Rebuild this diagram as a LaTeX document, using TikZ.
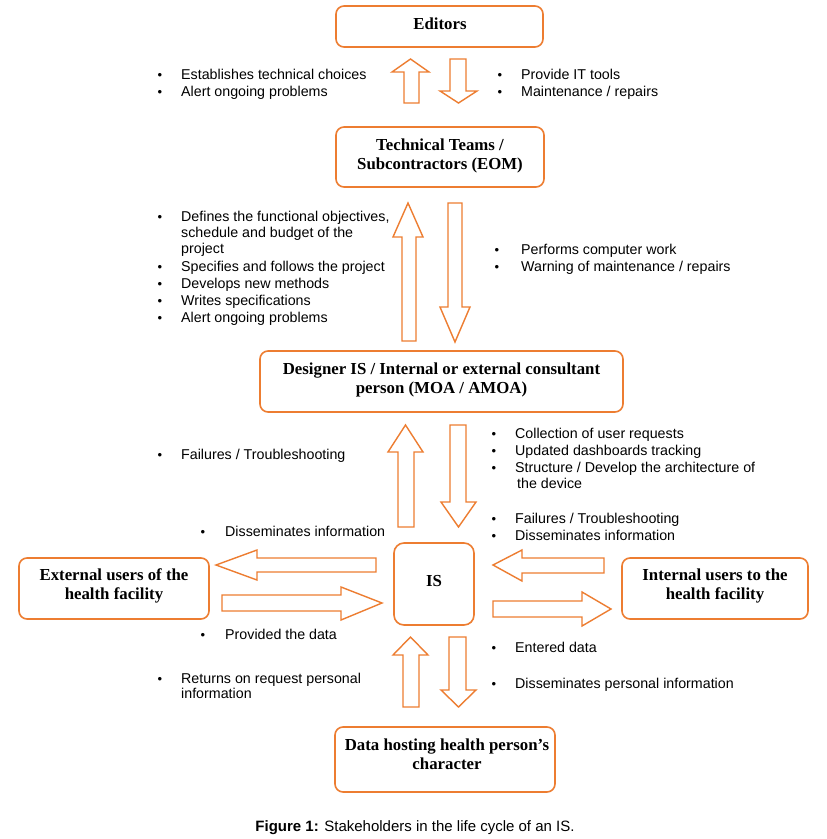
\documentclass[tikz,border=0pt]{standalone}
\usepackage{fontspec}
\setmainfont{Liberation Serif}
\newfontfamily\arialf{Liberation Sans}
\definecolor{orng}{HTML}{ED7D31}
\newcommand\bitem[5]{%
  \node[blt] (#1b) at (#2,#4+5) {\textbullet};
  \node[itm] (#1) at (#3,#4+5) {#5};}
\newcommand\citem[4]{%
  \node[itm] (#1) at (#2,#3+5) {#4};}
\begin{document}
\begin{tikzpicture}[x=1pt,y=-1pt,
  box/.style={draw=orng, line width=1.6pt, rounded corners=8pt, fill=white, inner sep=0pt},
  title/.style={font=\fontsize{16.8}{19}\selectfont\bfseries, align=center, inner sep=0pt},
  barrow/.style={draw=orng, line width=1.4pt, fill=white, line join=miter},
  itm/.style={font=\arialf\fontsize{14.25}{17}\selectfont, anchor=base west, inner sep=0pt},
  blt/.style={font=\arialf\fontsize{13}{17}\selectfont, anchor=base, inner sep=0pt}]
\useasboundingbox (0,0) rectangle (827,839);
\fill[white] (0,0) rectangle (827,839);

% boxes
\node[box, minimum width=207pt, minimum height=41pt] (editors) at (439.5,26.5) {};
\node[title] (editorst) at (440,24) {Editors};
\node[box, minimum width=208pt, minimum height=60pt] (tech) at (440,157) {};
\node[title] (techt) at (440,155.5) {Technical Teams /\\Subcontractors (EOM)};
\node[box, minimum width=363pt, minimum height=61pt] (designer) at (441.5,381.5) {};
\node[title] (designert) at (441.5,379.5) {Designer IS / Internal or external consultant\\person (MOA / AMOA)};
\node[box, rounded corners=10pt, minimum width=80pt, minimum height=82pt] (is) at (434,584) {};
\node[title] (ist) at (434,581) {IS};
\node[box, minimum width=190pt, minimum height=61pt] (ext) at (114,588.5) {};
\node[title] (extt) at (114,585.5) {External users of the\\health facility};
\node[box, minimum width=186pt, minimum height=61pt] (int) at (715,588.5) {};
\node[title] (intt) at (715,585.5) {Internal users to the\\health facility};
\node[box, minimum width=220pt, minimum height=65pt] (data) at (445,759.5) {};
\node[title] (datat) at (447,754.5) {Data hosting health person’s\\character};

% block arrows
\draw[barrow] (404,103) -- (404,72) -- (392,72) -- (410.5,59) -- (429,72) -- (419,72) -- (419,103) -- cycle;
\draw[barrow] (450,59) -- (466,59) -- (466,91) -- (477,91) -- (458.5,103) -- (440,91) -- (450,91) -- cycle;

\draw[barrow] (402,341) -- (402,237) -- (393,237) -- (408,203) -- (423,237) -- (416,237) -- (416,341) -- cycle;
\draw[barrow] (448,203) -- (462,203) -- (462,307) -- (470,307) -- (455,342) -- (440,307) -- (448,307) -- cycle;

\draw[barrow] (398,527) -- (398,452) -- (388,452) -- (405.5,425) -- (423,452) -- (414,452) -- (414,527) -- cycle;
\draw[barrow] (450,425) -- (466,425) -- (466,502) -- (476,502) -- (458.5,527) -- (441,502) -- (450,502) -- cycle;

\draw[barrow] (376,558) -- (257,558) -- (257,550) -- (216,565) -- (257,580) -- (257,572) -- (376,572) -- cycle;
\draw[barrow] (222,595) -- (341,595) -- (341,587) -- (382,603) -- (341,620) -- (341,611) -- (222,611) -- cycle;

\draw[barrow] (604,558) -- (522,558) -- (522,550) -- (493,565) -- (522,581) -- (522,573) -- (604,573) -- cycle;
\draw[barrow] (493,601) -- (582,601) -- (582,592) -- (611,609) -- (582,626) -- (582,617) -- (493,617) -- cycle;

\draw[barrow] (403,707) -- (403,655) -- (393,655) -- (410.5,637) -- (428,655) -- (419,655) -- (419,707) -- cycle;
\draw[barrow] (449,637) -- (466,637) -- (466,690) -- (476,690) -- (458.5,707) -- (441,690) -- (449,690) -- cycle;

% texts
\bitem{a1}{160}{181}{74}{Establishes technical choices}
\bitem{a2}{160}{181}{91}{Alert ongoing problems}
\bitem{b1}{500}{521}{74}{Provide IT tools}
\bitem{b2}{500}{521}{91}{Maintenance / repairs}

\bitem{c1}{160}{181}{216}{Defines the functional objectives,}
\citem{c1a}{181}{232}{schedule and budget of the}
\citem{c1b}{181}{248}{project}
\bitem{c2}{160}{181}{266}{Specifies and follows the project}
\bitem{c3}{160}{181}{283}{Develops new methods}
\bitem{c4}{160}{181}{300}{Writes specifications}
\bitem{c5}{160}{181}{317}{Alert ongoing problems}

\bitem{d1}{497}{521}{249}{Performs computer work}
\bitem{d2}{497}{521}{266}{Warning of maintenance / repairs}

\bitem{e1}{160}{181}{454}{Failures / Troubleshooting}

\bitem{f1}{494}{515}{433}{Collection of user requests}
\bitem{f2}{494}{515}{450}{Updated dashboards tracking}
\bitem{f3}{494}{515}{467}{Structure / Develop the architecture of}
\citem{f3a}{517}{483}{the device}
\bitem{f4}{494}{515}{518}{Failures / Troubleshooting}
\bitem{f5}{494}{515}{535}{Disseminates information}

\bitem{g1}{203}{225}{531}{Disseminates information}
\bitem{g2}{203}{225}{634}{Provided the data}

\bitem{h1}{494}{515}{647}{Entered data}
\bitem{h2}{494}{515}{683}{Disseminates personal information}

\bitem{k1}{160}{181}{678}{Returns on request personal}
\citem{k1a}{181}{693}{information}

\node[itm, anchor=base, font=\arialf\fontsize{15}{17}\selectfont] (caption) at (415,831) {\textbf{Figure 1:} Stakeholders in the life cycle of an IS.};
\end{tikzpicture}
\end{document}
